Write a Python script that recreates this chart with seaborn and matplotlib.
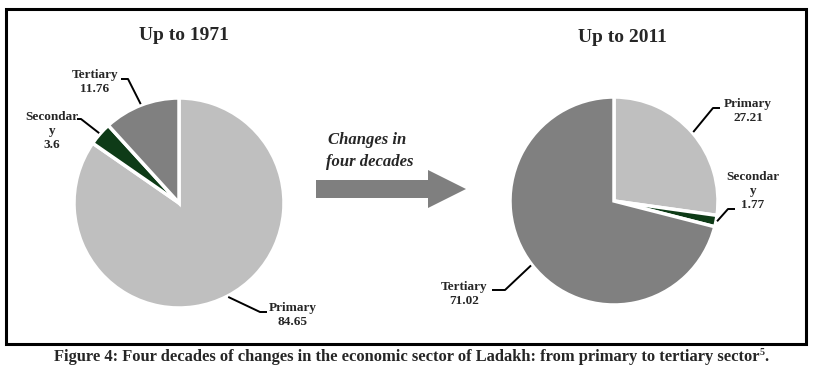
import numpy as np
import matplotlib
matplotlib.use("Agg")
import matplotlib.pyplot as plt
from matplotlib.patches import FancyArrow, Rectangle
import seaborn as sns

# ---- data ----
sectors = ["Primary", "Secondary", "Tertiary"]
share_1971 = [84.65, 3.6, 11.76]
share_2011 = [27.21, 1.77, 71.02]
label_names = ["Primary", "Secondar\ny", "Tertiary"]
titles = ["Up to 1971", "Up to 2011"]
arrow_text = "Changes in\nfour decades"
caption = "Figure 4: Four decades of changes in the economic sector of Ladakh: from primary to tertiary sector"

sns.set_theme(style="white")
plt.rcParams["font.family"] = ["Liberation Serif", "DejaVu Serif"]
colors = sns.color_palette(["#BFBFBF", "#0E3B17", "#808080"])

W, H = 814, 378
fig = plt.figure(figsize=(W / 100, H / 100), dpi=100)
fig.patch.set_facecolor("white")

# overlay axes in pixel coordinates
ov = fig.add_axes([0, 0, 1, 1])
ov.set_xlim(0, W)
ov.set_ylim(H, 0)
ov.axis("off")
ov.patch.set_alpha(0)
ov.set_zorder(3)

# border
ov.add_patch(Rectangle((6, 9), 800, 335, fill=False, lw=2.2, ec="black"))

pies = [
    dict(values=share_1971, cx=179, cy=203, r=105, title=titles[0], tx=184, ty=40,
         labels=[dict(x=293, y=315, line=[(267, 312), (260, 312)]),
                 dict(x=52, y=131, line=[(77, 119), (81, 119)]),
                 dict(x=95, y=82, line=[(121, 79), (128, 79)])]),
    dict(values=share_2011, cx=614, cy=201, r=104, title=titles[1], tx=622, ty=42,
         labels=[dict(x=748, y=111, line=[(720, 108), (713, 108)]),
                 dict(x=753, y=191, line=[(735, 209), (728, 209)]),
                 dict(x=464, y=294, line=[(492, 290), (505, 290)])]),
]

for p in pies:
    cx, cy, r = p["cx"], p["cy"], p["r"]
    ax = fig.add_axes([(cx - r) / W, (H - cy - r) / H, 2 * r / W, 2 * r / H])
    wedges, _ = ax.pie(p["values"], colors=colors, startangle=90, counterclock=False,
                       wedgeprops=dict(edgecolor="white", linewidth=2.5))
    ax.set_xlim(-1, 1)
    ax.set_ylim(-1, 1)
    ax.axis("off")
    ov.text(p["tx"], p["ty"], p["title"], ha="center", va="baseline",
            fontsize=14, fontweight="bold")
    for w, name, val, lab in zip(wedges, label_names, p["values"], p["labels"]):
        mid = np.deg2rad((w.theta1 + w.theta2) / 2)
        ax_x = cx + r * 1.01 * np.cos(mid)
        ax_y = cy - r * 1.01 * np.sin(mid)
        pts = lab["line"] + [(ax_x, ax_y)]
        ov.plot([q[0] for q in pts], [q[1] for q in pts], color="black", lw=1.4,
                solid_capstyle="butt")
        ov.text(lab["x"], lab["y"], f"{name}\n{val:g}", ha="center", va="center",
                fontsize=9.5, fontweight="bold", linespacing=1.2)

# arrow
ov.add_patch(FancyArrow(316, 189, 150, 0, width=18, head_width=38, head_length=38,
                        length_includes_head=True, color="#7F7F7F", lw=0))
l1, l2 = arrow_text.split("\n")
ov.text(328, 144, l1, ha="left", va="baseline", fontsize=12, fontweight="bold",
        fontstyle="italic")
ov.text(326, 166, l2, ha="left", va="baseline", fontsize=12, fontweight="bold",
        fontstyle="italic")

# caption with superscript
cap = ov.text(54, 361, caption, ha="left", va="baseline", fontsize=12, fontweight="bold")
fig.canvas.draw()
ren = fig.canvas.get_renderer()
bb = cap.get_window_extent(ren)
target = 700
fs = 12 * target / bb.width
cap.set_fontsize(fs)
fig.canvas.draw()
bb = cap.get_window_extent(ren)
x_end = bb.x1
sup = ov.text(x_end, 355, "5", ha="left", va="baseline", fontsize=fs * 0.6, fontweight="bold")
fig.canvas.draw()
bb2 = sup.get_window_extent(ren)
ov.text(bb2.x1, 361, ".", ha="left", va="baseline", fontsize=fs, fontweight="bold")

fig.savefig("out.png", dpi=100)
